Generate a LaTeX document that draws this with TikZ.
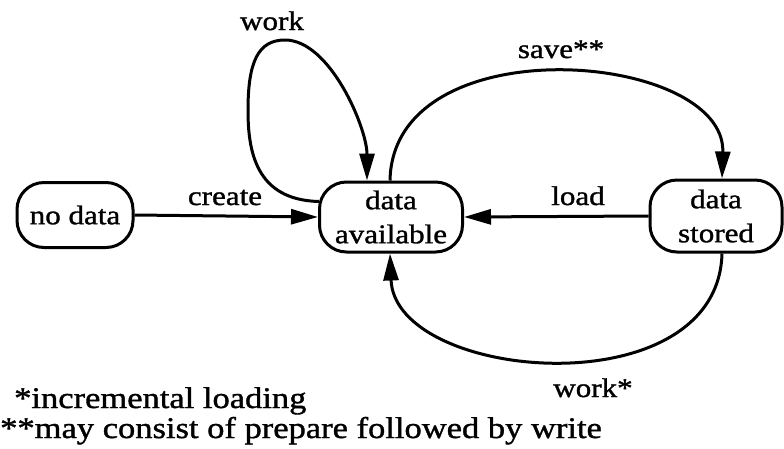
\documentclass[tikz,border=0pt]{standalone}
\usepackage{fontspec}
\setmainfont{Liberation Serif}
\newfontfamily\diafont[FakeStretch=1.15,FakeBold=1.2]{Liberation Serif}
\usetikzlibrary{arrows.meta}
\begin{document}
\begin{tikzpicture}[x=1pt,y=-1pt,
  state/.style={draw,line width=3pt,rounded corners=27pt,align=center,inner sep=0pt,font=\diafont\fontsize{27}{34}\selectfont},
  lab/.style={font=\diafont\fontsize{27}{34}\selectfont,inner sep=0pt,anchor=base},
  foot/.style={font=\diafont\fontsize{30}{30}\selectfont,inner sep=0pt,anchor=base west},
  conn/.style={line width=3pt,-{Triangle[length=27pt,width=15pt]}}]
\useasboundingbox (0,0) rectangle (784,448);
\node[state,minimum width=116pt,minimum height=65pt] (nd) at (75,215) {no data};
\node[state,minimum width=143pt,minimum height=70pt] (da) at (391,217) {data\\available};
\node[state,minimum width=132pt,minimum height=72pt] (ds) at (716,216) {data\\stored};
\draw[conn] (nd.east) -- (da.west);
\draw[conn] (ds.west) -- (da.east);
\draw[conn] ([xshift=-72pt,yshift=-21pt]da.north) .. controls (255,200) and (248,150) .. (248,110)
  .. controls (248,62) and (258,40) .. (285,40) .. controls (330,40) and (367,128) .. ([xshift=-24pt]da.north);
\draw[conn] ([xshift=-1pt]da.north) .. controls (393,24) and (726,51) .. ([xshift=6pt]ds.north);
\draw[conn] ([xshift=6pt]ds.south) .. controls (718,409) and (395,382) .. ([xshift=-1pt]da.south);
\node[lab] (lwork) at (272,30) {work};
\node[lab] (lcreate) at (225,205) {create};
\node[lab] (lload) at (578,205) {load};
\node[lab] (lsave) at (561,58) {save**};
\node[lab] (lworks) at (593,397) {work*};
\node[foot] (f1) at (14,408) {*incremental loading};
\node[foot] (f2) at (0,438) {**may consist of prepare followed by write};
\end{tikzpicture}
\end{document}
